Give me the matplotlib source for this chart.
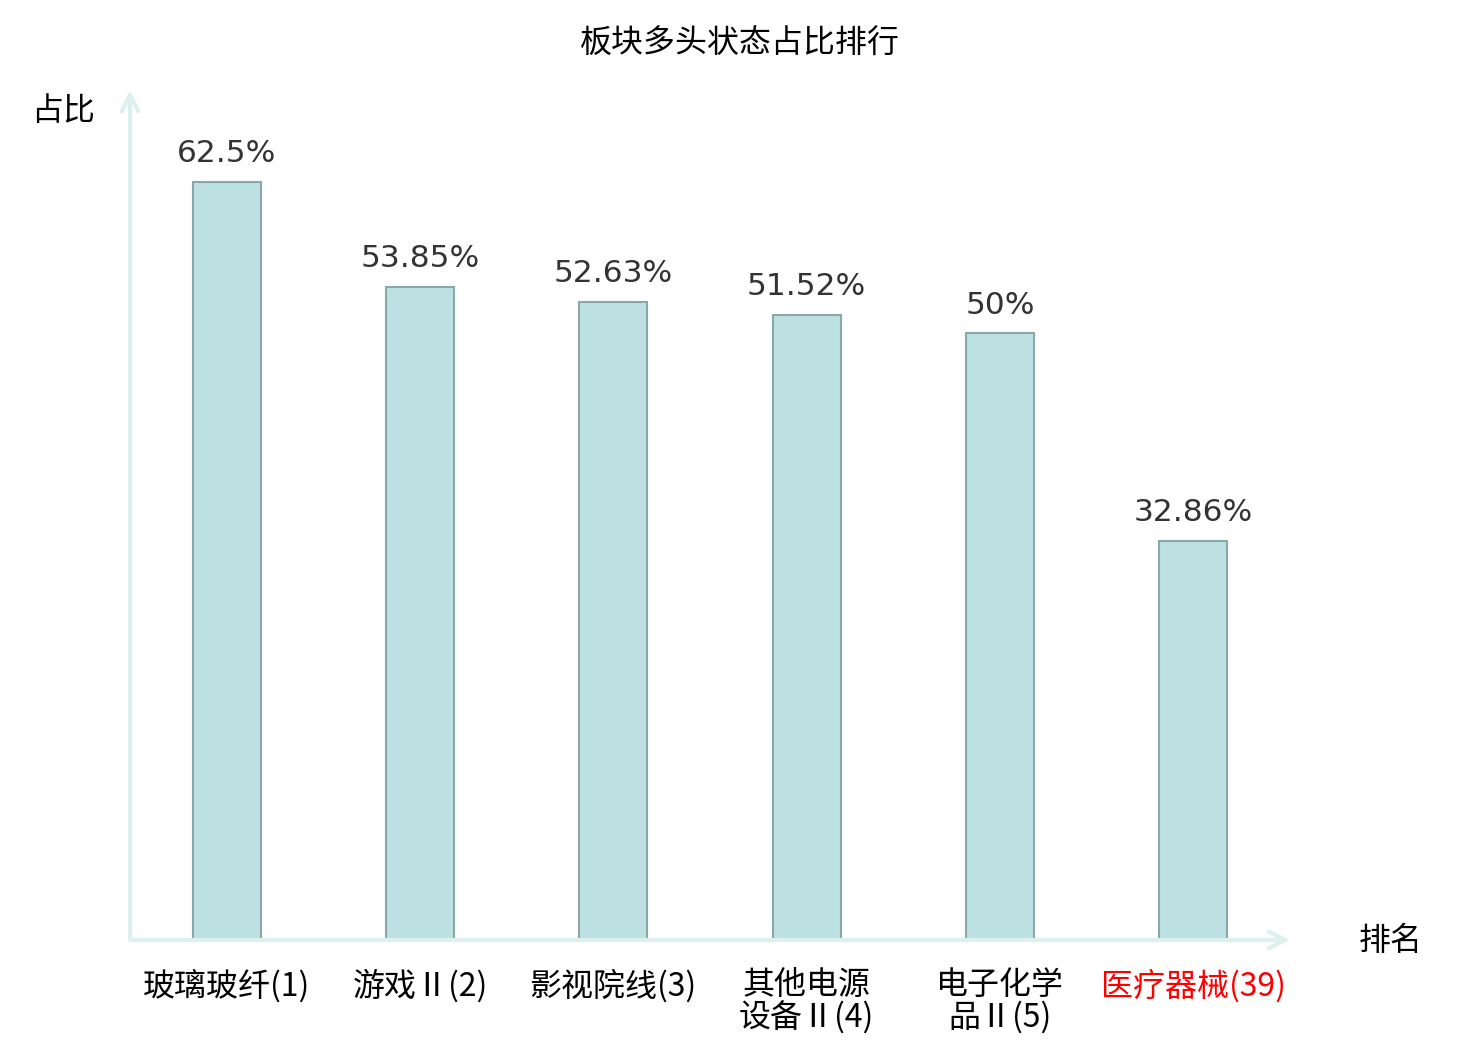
import matplotlib
matplotlib.use('Agg')
import matplotlib.pyplot as plt

categories = ['玻璃玻纤(1)', '游戏Ⅱ(2)', '影视院线(3)', '其他电源\n设备Ⅱ(4)', '电子化学\n品Ⅱ(5)', '医疗器械(39)']
values = [62.5, 53.85, 52.63, 51.52, 50, 32.86]
value_labels = ['62.5%', '53.85%', '52.63%', '51.52%', '50%', '32.86%']
label_colors = ['black', 'black', 'black', 'black', 'black', 'red']

cjk = ['Noto Sans CJK SC', 'DejaVu Sans']
plt.rcParams['font.family'] = cjk

fig = plt.figure(figsize=(14.8, 10.4), dpi=100)
W, H = 1480, 1040
ax = fig.add_axes([130 / W, 100 / H, 1160 / W, 850 / H])

x = range(len(values))
ax.bar(x, values, width=0.352, color='#bde0e2', edgecolor='#8aa8a8', linewidth=1.5)
for xi, v, lab in zip(x, values, value_labels):
    ax.annotate(lab, (xi, v), xytext=(0, 10), textcoords='offset points',
                ha='center', va='bottom', fontsize=22.5, color='#333333',
                family='DejaVu Sans')

ax.set_xlim(-0.5, 5.5)
ax.set_ylim(0, 70.07)
for s in ax.spines.values():
    s.set_visible(False)
ax.set_yticks([])
ax.set_xticks(list(x))
ax.set_xticklabels(categories, fontsize=23, linespacing=1.0)
ax.tick_params(axis='x', length=0, pad=21)
for t, c in zip(ax.get_xticklabels(), label_colors):
    t.set_color(c)

axis_col = '#dcf1ee'
ax.annotate('', xy=(0, 1), xytext=(0, 0), xycoords='axes fraction',
            arrowprops=dict(arrowstyle='->', color=axis_col, lw=3, mutation_scale=30,
                            shrinkA=0, shrinkB=0), annotation_clip=False)
ax.annotate('', xy=(1, 0), xytext=(0, 0), xycoords='axes fraction',
            arrowprops=dict(arrowstyle='->', color=axis_col, lw=3, mutation_scale=30,
                            shrinkA=0, shrinkB=0), annotation_clip=False)

fig.text(740 / W, 1 - 44 / H, '板块多头状态占比排行', ha='center', va='center', fontsize=23)
fig.text(63 / W, 1 - 111 / H, '占比', ha='center', va='center', fontsize=23)
fig.text(1391 / W, 1 - 941 / H, '排名', ha='center', va='center', fontsize=23)

fig.savefig('out.png', dpi=100)
